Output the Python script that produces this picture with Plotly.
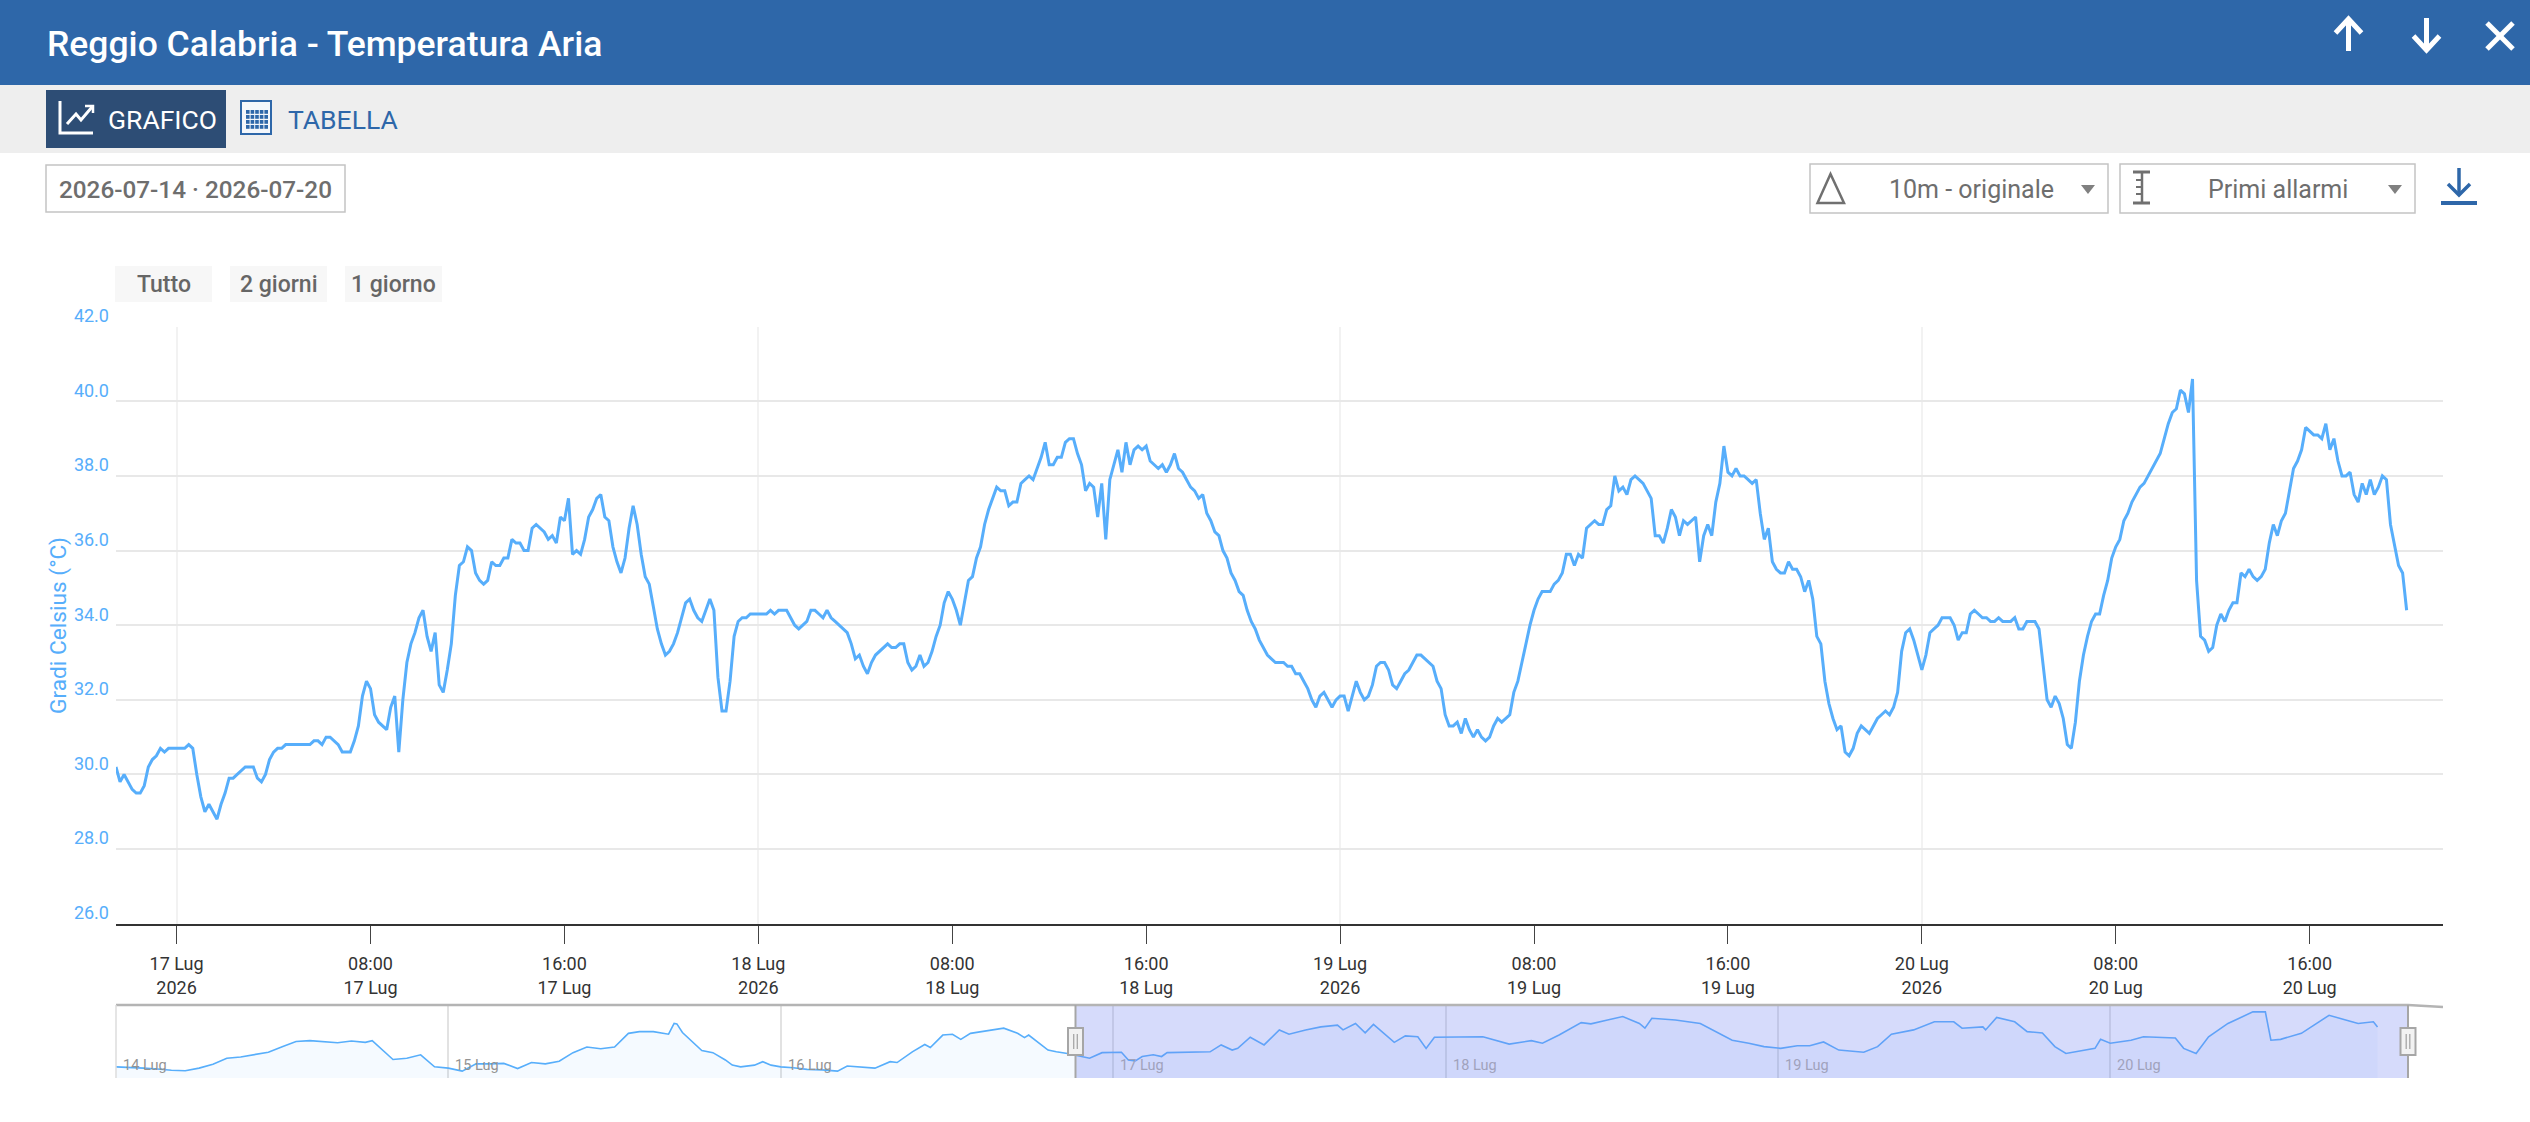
import pandas as pd
import plotly.graph_objects as go

W, H = 2530, 1122

# Air temperature, one reading every 10 minutes
SERIES_START = "2026-07-16 21:30"
temperature = [
    30.2, 29.8, 30.0, 29.8, 29.6, 29.5, 29.5, 29.7, 30.2, 30.4, 30.5, 30.7, 30.6, 30.7, 30.7, 30.7,
    30.7, 30.7, 30.8, 30.7, 30.0, 29.4, 29.0, 29.2, 29.0, 28.8, 29.2, 29.5, 29.9, 29.9, 30.0, 30.1,
    30.2, 30.2, 30.2, 29.9, 29.8, 30.0, 30.4, 30.6, 30.7, 30.7, 30.8, 30.8, 30.8, 30.8, 30.8, 30.8,
    30.8, 30.9, 30.9, 30.8, 31.0, 31.0, 30.9, 30.8, 30.6, 30.6, 30.6, 30.9, 31.3, 32.1, 32.5, 32.3,
    31.6, 31.4, 31.3, 31.2, 31.8, 32.1, 30.6, 32.0, 33.0, 33.5, 33.8, 34.2, 34.4, 33.7, 33.3, 33.8,
    32.4, 32.2, 32.8, 33.5, 34.8, 35.6, 35.7, 36.1, 36.0, 35.4, 35.2, 35.1, 35.2, 35.7, 35.6, 35.6,
    35.8, 35.8, 36.3, 36.2, 36.2, 36.0, 36.0, 36.6, 36.7, 36.6, 36.5, 36.3, 36.4, 36.2, 36.9, 36.8,
    37.4, 35.9, 36.0, 35.9, 36.3, 36.9, 37.1, 37.4, 37.5, 36.9, 36.8, 36.1, 35.7, 35.4, 35.8, 36.6,
    37.2, 36.7, 35.9, 35.3, 35.1, 34.5, 33.9, 33.5, 33.2, 33.3, 33.5, 33.8, 34.2, 34.6, 34.7, 34.4,
    34.2, 34.1, 34.4, 34.7, 34.4, 32.6, 31.7, 31.7, 32.5, 33.7, 34.1, 34.2, 34.2, 34.3, 34.3, 34.3,
    34.3, 34.3, 34.4, 34.3, 34.4, 34.4, 34.4, 34.2, 34.0, 33.9, 34.0, 34.1, 34.4, 34.4, 34.3, 34.2,
    34.4, 34.2, 34.1, 34.0, 33.9, 33.8, 33.5, 33.1, 33.2, 32.9, 32.7, 33.0, 33.2, 33.3, 33.4, 33.5,
    33.4, 33.4, 33.5, 33.5, 33.0, 32.8, 32.9, 33.2, 32.9, 33.0, 33.3, 33.7, 34.0, 34.6, 34.9, 34.7,
    34.4, 34.0, 34.6, 35.2, 35.3, 35.8, 36.1, 36.7, 37.1, 37.4, 37.7, 37.6, 37.6, 37.2, 37.3, 37.3,
    37.8, 37.9, 38.0, 37.9, 38.2, 38.5, 38.9, 38.3, 38.3, 38.5, 38.5, 38.9, 39.0, 39.0, 38.6, 38.3,
    37.6, 37.8, 37.7, 36.9, 37.8, 36.3, 37.9, 38.3, 38.7, 38.1, 38.9, 38.3, 38.7, 38.8, 38.7, 38.8,
    38.4, 38.3, 38.2, 38.3, 38.1, 38.3, 38.6, 38.2, 38.1, 37.9, 37.7, 37.6, 37.4, 37.5, 37.0, 36.8,
    36.5, 36.4, 36.0, 35.8, 35.4, 35.2, 34.9, 34.8, 34.4, 34.1, 33.9, 33.6, 33.4, 33.2, 33.1, 33.0,
    33.0, 33.0, 32.9, 32.9, 32.7, 32.7, 32.5, 32.3, 32.0, 31.8, 32.1, 32.2, 32.0, 31.8, 32.0, 32.1,
    32.1, 31.7, 32.1, 32.5, 32.2, 32.0, 32.1, 32.4, 32.9, 33.0, 33.0, 32.8, 32.4, 32.3, 32.5, 32.7,
    32.8, 33.0, 33.2, 33.2, 33.1, 33.0, 32.9, 32.5, 32.3, 31.6, 31.3, 31.3, 31.4, 31.1, 31.5, 31.2,
    31.0, 31.2, 31.0, 30.9, 31.0, 31.3, 31.5, 31.4, 31.5, 31.6, 32.2, 32.5, 33.0, 33.5, 34.0, 34.4,
    34.7, 34.9, 34.9, 34.9, 35.1, 35.2, 35.4, 35.9, 35.9, 35.6, 35.9, 35.8, 36.6, 36.7, 36.8, 36.7,
    36.7, 37.1, 37.2, 38.0, 37.6, 37.7, 37.5, 37.9, 38.0, 37.9, 37.8, 37.6, 37.4, 36.4, 36.4, 36.2,
    36.6, 37.1, 36.9, 36.4, 36.8, 36.7, 36.8, 36.9, 35.7, 36.4, 36.7, 36.4, 37.3, 37.8, 38.8, 38.1,
    38.0, 38.2, 38.0, 38.0, 37.9, 37.8, 37.9, 37.0, 36.3, 36.6, 35.7, 35.5, 35.4, 35.4, 35.7, 35.5,
    35.5, 35.3, 34.9, 35.2, 34.7, 33.7, 33.5, 32.5, 31.9, 31.5, 31.2, 31.3, 30.6, 30.5, 30.7, 31.1,
    31.3, 31.2, 31.1, 31.3, 31.5, 31.6, 31.7, 31.6, 31.8, 32.2, 33.3, 33.8, 33.9, 33.6, 33.2, 32.8,
    33.2, 33.8, 33.9, 34.0, 34.2, 34.2, 34.2, 34.0, 33.6, 33.8, 33.8, 34.3, 34.4, 34.3, 34.2, 34.2,
    34.1, 34.1, 34.2, 34.1, 34.1, 34.1, 34.2, 33.9, 33.9, 34.1, 34.1, 34.1, 33.9, 32.9, 32.0, 31.8,
    32.1, 31.9, 31.5, 30.8, 30.7, 31.4, 32.5, 33.2, 33.7, 34.1, 34.3, 34.3, 34.8, 35.2, 35.8, 36.1,
    36.3, 36.8, 37.0, 37.3, 37.5, 37.7, 37.8, 38.0, 38.2, 38.4, 38.6, 39.0, 39.4, 39.7, 39.8, 40.3,
    40.2, 39.7, 40.6, 35.2, 33.7, 33.6, 33.3, 33.4, 34.0, 34.3, 34.1, 34.4, 34.6, 34.6, 35.4, 35.3,
    35.5, 35.3, 35.2, 35.3, 35.5, 36.2, 36.7, 36.4, 36.8, 37.0, 37.6, 38.2, 38.4, 38.7, 39.3, 39.2,
    39.1, 39.1, 39.0, 39.4, 38.7, 39.0, 38.4, 38.0, 38.0, 38.1, 37.5, 37.3, 37.8, 37.5, 37.9, 37.5,
    37.7, 38.0, 37.9, 36.7, 36.1, 35.6, 35.4, 34.4,
]

# Overview strip: hours since the start of 14 July and the temperature at that time
overview_hours = [
    0, 1, 2, 3, 4, 5, 6, 7, 8, 9, 10, 11, 12, 13, 14, 15, 16, 17, 18, 18.5, 19, 20, 21, 22, 23, 24,
    25, 26, 27, 28, 29, 30, 31, 32, 33, 34, 35, 36, 37, 37.8, 38.8, 39.4, 39.9, 40.3, 40.5, 40.9,
    41.7, 42.3, 43.1, 44.0, 44.5, 45.1, 46.1, 46.7, 47.3, 48.0, 48.9, 49.9, 51, 52.1, 52.8, 53.5,
    54.8, 55.9, 56.4, 57.5, 58.4, 58.8, 59.7, 60.4, 61, 61.7, 62.8, 64.1, 65.1, 65.6, 65.9, 66.7,
    67.3, 67.9, 68.7, 70.3, 71.2, 72.6, 73.1, 73.6, 74.1, 74.9, 75.5, 75.9, 78.2, 79.0, 79.8, 80.6,
    81, 81.9, 82.9, 84.0, 84.7, 85.9, 87.0, 88.2, 88.6, 89.5, 90.2, 90.8, 92.3, 93.1, 94, 94.6, 95.2,
    97.5, 98.7, 100.6, 102.2, 103.0, 104.2, 105.8, 106.5, 107.7, 108.8, 110, 110.4, 110.9, 112.6,
    114.4, 116.7, 117.9, 119, 120.2, 121.4, 122.3, 123.3, 124.4, 126.2, 127.2, 128.2, 129.8, 131.3,
    132.7, 133.3, 134.8, 135, 135.8, 137.1, 138, 139.1, 140, 140.8, 142.9, 143.3, 144, 145.5, 146.4,
    148.7, 149.3, 150.2, 151.1, 152.5, 154.3, 155.2, 155.6, 156.3, 157.8, 159.8, 161, 161.9, 163, 163.3,
]
overview_temps = [
    27.4, 27.3, 27.1, 26.9, 26.6, 26.5, 27.1, 28.0, 29.4, 29.7, 30.2, 30.8, 32.1, 33.3, 33.5, 33.2,
    33.0, 33.4, 33.1, 33.5, 32.1, 29.1, 29.4, 30.2, 27.4, 27.1, 26.4, 28.1, 28.1, 28.2, 27.0, 28.4,
    28.1, 28.7, 30.7, 32.0, 31.6, 32.0, 35.2, 35.6, 35.6, 35.2, 35.0, 37.5, 37.4, 35.4, 33.0, 31.2,
    30.7, 29.0, 27.8, 27.4, 27.8, 28.6, 27.8, 27.4, 27.2, 26.8, 26.7, 26.4, 27.6, 27.4, 27.1, 28.6,
    28.4, 30.9, 32.6, 31.9, 34.8, 35.0, 33.8, 35.2, 35.8, 36.4, 35.2, 34.2, 34.8, 32.9, 31.3, 30.9,
    30.5, 29.4, 30.7, 30.8, 29.0, 28.8, 29.8, 30.2, 29.8, 30.7, 30.9, 30.9, 32.5, 31.3, 31.7, 34.3,
    32.5, 36.0, 35.0, 36.0, 36.7, 37.1, 36.0, 37.5, 35.3, 37.3, 33.1, 34.6, 34.4, 31.7, 34.3, 34.3,
    34.4, 32.7, 33.5, 32.9, 34.8, 37.7, 37.4, 38.3, 39.1, 37.5, 36.4, 38.7, 38.3, 37.5, 33.6, 32.9,
    32.1, 31.7, 32.3, 32.3, 33.2, 31.3, 30.8, 32.1, 35.0, 36.0, 37.9, 37.9, 36.4, 36.7, 36.0, 38.9,
    37.9, 35.6, 35.3, 32.1, 30.5, 31.7, 33.8, 32.9, 33.6, 34.4, 34.1, 31.7, 30.5, 34.4, 37.5, 40.2,
    40.2, 33.6, 33.8, 35.2, 39.4, 38.3, 37.5, 37.9, 36.7,
]

y_ticks = [26, 28, 30, 32, 34, 36, 38, 40, 42]
x_tick_dates = [
    "2026-07-17 00:00", "2026-07-17 08:00", "2026-07-17 16:00",
    "2026-07-18 00:00", "2026-07-18 08:00", "2026-07-18 16:00",
    "2026-07-19 00:00", "2026-07-19 08:00", "2026-07-19 16:00",
    "2026-07-20 00:00", "2026-07-20 08:00", "2026-07-20 16:00",
]
x_tick_labels = [
    "17 Lug<br>2026", "08:00<br>17 Lug", "16:00<br>17 Lug",
    "18 Lug<br>2026", "08:00<br>18 Lug", "16:00<br>18 Lug",
    "19 Lug<br>2026", "08:00<br>19 Lug", "16:00<br>19 Lug",
    "20 Lug<br>2026", "08:00<br>20 Lug", "16:00<br>20 Lug",
]
main_day_lines = ["2026-07-17", "2026-07-18", "2026-07-19", "2026-07-20"]
overview_days = ["2026-07-14", "2026-07-15", "2026-07-16", "2026-07-17", "2026-07-18", "2026-07-19", "2026-07-20"]
overview_labels = ["14 Lug", "15 Lug", "16 Lug", "17 Lug", "18 Lug", "19 Lug", "20 Lug"]
OVERVIEW_ORIGIN = "2026-07-14"

FONT = "Roboto, sans-serif"
LINE_BLUE = "#57AEFB"
BAND_BLUE = "#2E67A9"
NAVY = "#2D4D75"
GREY_TEXT = "#6E6E6E"


def fx(px):
    return px / W


def fy(py):
    return 1 - py / H


def path(points, closed=False):
    parts = [("M" if k == 0 else "L") + f" {fx(a):.6f} {fy(b):.6f}" for k, (a, b) in enumerate(points)]
    return " ".join(parts) + (" Z" if closed else "")


shapes = []
annotations = []


def rect(x0, y0, x1, y1, fill=None, stroke=None, width=1, layer="above"):
    shapes.append(dict(
        type="rect", xref="paper", yref="paper", x0=fx(x0), x1=fx(x1), y0=fy(y1), y1=fy(y0),
        fillcolor=fill or "rgba(0,0,0,0)",
        line=dict(color=stroke or "rgba(0,0,0,0)", width=width if stroke else 0), layer=layer,
    ))


def poly(points, stroke=None, width=2, fill=None, closed=False):
    shapes.append(dict(
        type="path", xref="paper", yref="paper", path=path(points, closed),
        fillcolor=fill or "rgba(0,0,0,0)",
        line=dict(color=stroke or "rgba(0,0,0,0)", width=width if stroke else 0), layer="above",
    ))


def label(text, x, y, size, color, anchor="left", weight=400):
    annotations.append(dict(
        text=text, xref="paper", yref="paper", x=fx(x), y=fy(y), xanchor=anchor, yanchor="middle",
        showarrow=False, borderpad=0, font=dict(family=FONT, size=size, color=color, weight=weight),
    ))


# Page header, tab row and selectors
rect(0, 0, W, 85, fill=BAND_BLUE, layer="below")
rect(0, 85, W, 153, fill="#EEEEEE", layer="below")
label("Reggio Calabria - Temperatura Aria", 46, 44, 35.5, "white", weight=500)

for cx in (2348.5, 2426.5):
    up = cx < 2400
    tip, tail = (19, 51) if up else (50, 18)
    head = tip + 14 if up else tip - 14
    poly([(cx, tail), (cx, tip)], "white", 5)
    poly([(cx - 13, head), (cx, tip), (cx + 13, head)], "white", 5)
poly([(2487, 23), (2513, 49)], "white", 5)
poly([(2513, 23), (2487, 49)], "white", 5)

rect(46, 90, 226, 148, fill=NAVY, layer="below")
poly([(60, 101), (60, 133), (93, 133)], "white", 3)
poly([(67, 124), (76, 114), (81, 120), (92, 107)], "white", 3)
poly([(85, 106), (93, 106), (93, 113)], "white", 2.5)
label("GRAFICO", 107, 119, 26.5, "white")

rect(241, 101, 271, 134, fill="#F4F7FB", stroke=BAND_BLUE, width=2)
for row in range(4):
    for col in range(5):
        rect(246 + col * 4.6, 110 + row * 5, 249.6 + col * 4.6, 113.8 + row * 5, fill=BAND_BLUE)
label("TABELLA", 287, 119, 26.5, BAND_BLUE)

rect(46, 165, 345, 212, fill="white", stroke="#C4C4C4", width=1.5)
label("2026-07-14 · 2026-07-20", 58, 189, 24.3, GREY_TEXT, weight=500)

rect(1810, 164, 2108, 213, fill="white", stroke="#C4C4C4", width=1.5)
poly([(1830.5, 174), (1817.5, 203), (1844, 203)], "#707070", 2.5, closed=True)
label("10m - originale", 1971, 190, 25, GREY_TEXT, anchor="center")
poly([(2081, 185), (2095, 185), (2088, 194)], fill="#808080", closed=True)

rect(2120, 164, 2415, 213, fill="white", stroke="#C4C4C4", width=1.5)
poly([(2133, 172), (2150, 172)], "#707070", 3)
poly([(2133, 203), (2150, 203)], "#707070", 3)
poly([(2142, 172), (2142, 203)], "#707070", 2.5)
for tick_y in (180, 187, 194):
    poly([(2136, tick_y), (2142, tick_y)], "#707070", 2)
label("Primi allarmi", 2278, 190, 25, GREY_TEXT, anchor="center")
poly([(2388, 185), (2402, 185), (2395, 194)], fill="#808080", closed=True)

poly([(2459, 168), (2459, 194)], BAND_BLUE, 3.5)
poly([(2448, 184), (2459, 195), (2470, 184)], BAND_BLUE, 3.5)
poly([(2441, 203), (2477, 203)], BAND_BLUE, 4)

# Range buttons above the plot
for text, x0, x1 in (("Tutto", 115, 212), ("2 giorni", 230, 327), ("1 giorno", 345, 442)):
    rect(x0, 266, x1, 302, fill="#F7F7F7", layer="below")
    label(text, (x0 + x1) / 2, 284, 23, "#666666", anchor="center", weight=500)

# Axis title
annotations.append(dict(
    text="Gradi Celsius (°C)", xref="paper", yref="paper", x=fx(58), y=fy(626), textangle=-90,
    showarrow=False, xanchor="center", yanchor="middle",
    font=dict(family=FONT, size=22.7, color=LINE_BLUE),
))

# Overview strip chrome: frame, selected window and handles
NAV_TOP, NAV_BOTTOM = 1005, 1078
SEL_LEFT, SEL_RIGHT = 1075.5, 2408
rect(SEL_LEFT, NAV_TOP, SEL_RIGHT, NAV_BOTTOM, fill="rgba(118,135,242,0.30)")
poly([(116, NAV_TOP), (SEL_RIGHT, NAV_TOP), (2443, NAV_TOP + 2)], "#B4B4B4", 2.5)
poly([(116, NAV_TOP), (116, NAV_BOTTOM)], "#DDDDDD", 1.5)
for sel_x in (SEL_LEFT, SEL_RIGHT):
    poly([(sel_x, NAV_TOP), (sel_x, NAV_BOTTOM)], "#A6A6A6", 2)
    rect(sel_x - 7.5, 1028, sel_x + 7.5, 1055, fill="#F2F2F2", stroke="#A6A6A6", width=2)
    for dx in (-1.8, 1.8):
        poly([(sel_x + dx, 1034), (sel_x + dx, 1049)], "#A6A6A6", 1.3)

overview_times = pd.Timestamp(OVERVIEW_ORIGIN) + pd.to_timedelta(overview_hours, unit="h")
for day, text, masked in zip(overview_days, overview_labels, [False] * 3 + [True] * 4):
    annotations.append(dict(
        text=text, xref="x2", yref="paper", x=day, y=fy(1065), xanchor="left", yanchor="middle",
        xshift=6, showarrow=False, borderpad=0,
        font=dict(family=FONT, size=14.5, color="#A0A2BC" if masked else "#939393"),
    ))

times = pd.date_range(SERIES_START, periods=len(temperature), freq="10min")

fig = go.Figure()
fig.add_trace(go.Scatter(
    x=times, y=temperature, mode="lines", line=dict(color=LINE_BLUE, width=3), xaxis="x", yaxis="y",
    showlegend=False, name="Temperatura Aria",
))
fig.add_trace(go.Scatter(
    x=overview_times, y=overview_temps, mode="lines", line=dict(color=LINE_BLUE, width=1.6),
    fill="tozeroy", fillcolor="rgba(87,174,251,0.06)", xaxis="x2", yaxis="y2", showlegend=False,
    name="Panoramica",
))

fig.update_layout(
    width=W, height=H, autosize=False,
    margin=dict(l=0, r=0, t=0, b=0, pad=0),
    paper_bgcolor="white", plot_bgcolor="white",
    font=dict(family=FONT),
    shapes=shapes, annotations=annotations,
    xaxis=dict(
        domain=[fx(116), fx(2443)], range=["2026-07-16 21:30", "2026-07-20 21:30"], type="date",
        tickmode="array", tickvals=x_tick_dates, ticktext=x_tick_labels,
        ticks="outside", ticklen=18, tickwidth=1, tickcolor="#444444",
        showline=True, linecolor="#333333", linewidth=2, showgrid=False, zeroline=False,
        tickfont=dict(family=FONT, size=18, color="#333333"), ticklabelstandoff=5, tickangle=0,
        minor=dict(tickmode="array", tickvals=main_day_lines, showgrid=True, gridcolor="#F2F2F2",
                   gridwidth=2, ticks=""),
        anchor="y", automargin=False,
    ),
    yaxis=dict(
        domain=[fy(923.7), fy(326.7)], range=[26, 42], tickmode="array", tickvals=y_ticks,
        tickformat=".1f", ticks="", showline=False, zeroline=False,
        showgrid=True, gridcolor="#E8E8E8", gridwidth=2,
        tickfont=dict(family=FONT, size=18, color=LINE_BLUE), ticklabelshift=-11, ticklabelstandoff=6,
        anchor="x", automargin=False,
    ),
    xaxis2=dict(
        domain=[fx(116), fx(SEL_RIGHT)], range=["2026-07-14 00:00", "2026-07-20 21:30"], type="date",
        tickmode="array", tickvals=overview_days, showticklabels=False, ticks="",
        showgrid=True, gridcolor="#E2E2E2", gridwidth=1.5, showline=False, zeroline=False, anchor="y2",
        automargin=False,
    ),
    yaxis2=dict(
        domain=[fy(NAV_BOTTOM), fy(NAV_TOP)], range=[24.8, 41.8], showticklabels=False, ticks="",
        showgrid=False, showline=False, zeroline=False, anchor="x2", automargin=False,
    ),
)

fig.write_html("out.html", config={"displayModeBar": False})
